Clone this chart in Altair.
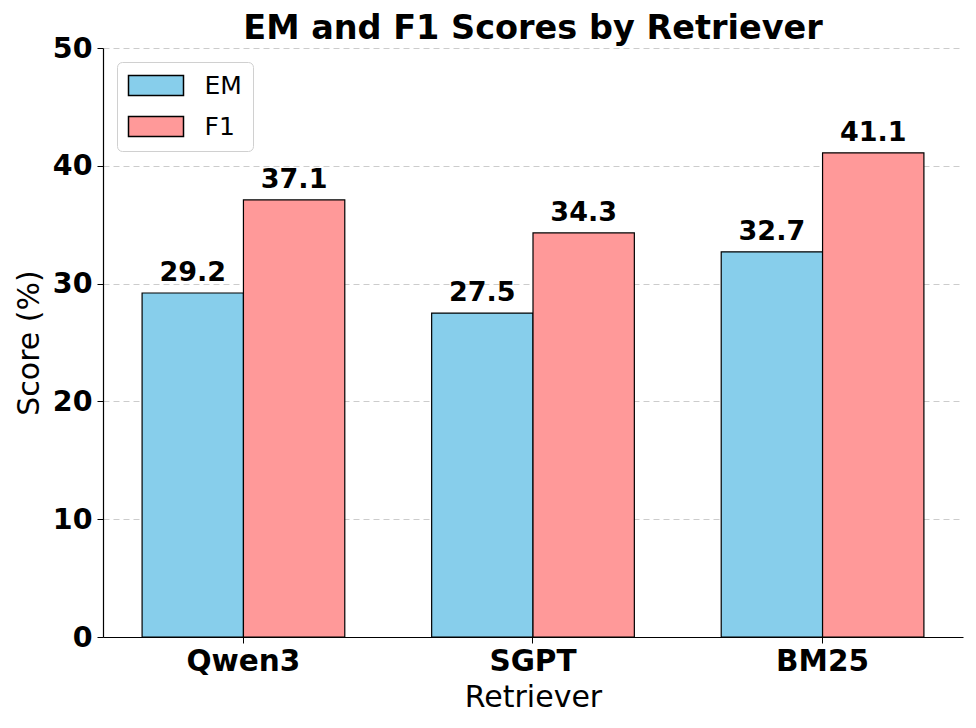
import altair as alt
import pandas as pd

retrievers = ["Qwen3", "SGPT", "BM25"]
metrics = ["EM", "F1"]
em_scores = [29.2, 27.5, 32.7]
f1_scores = [37.1, 34.3, 41.1]
colors = ["#87CEEB", "#FF9999"]

rows = []
for r, em, f1 in zip(retrievers, em_scores, f1_scores):
    rows.append({"Retriever": r, "Metric": "EM", "Score": em})
    rows.append({"Retriever": r, "Metric": "F1", "Score": f1})
df = pd.DataFrame(rows)
df["label"] = df["Score"].map(lambda v: f"{v:.1f}")

FONT = "DejaVu Sans"

x = alt.X(
    "Retriever:N",
    sort=retrievers,
    scale=alt.Scale(paddingInner=0.3, paddingOuter=0.135),
    axis=alt.Axis(
        title="Retriever",
        labelAngle=0,
        labelFontWeight="bold",
        labelFontSize=29.5,
        labelColor="black",
        labelPadding=4,
        titleFontSize=30,
        titleFontWeight="normal",
        titleColor="black",
        titlePadding=7,
        tickSize=6,
        tickColor="black",
        domainColor="black",
        domainWidth=1.2,
        grid=False,
    ),
)
xo = alt.XOffset("Metric:N", sort=metrics, scale=alt.Scale(paddingInner=0, paddingOuter=0))
y = alt.Y(
    "Score:Q",
    scale=alt.Scale(domain=[0, 50], nice=False),
    axis=alt.Axis(
        title="Score (%)",
        values=[0, 10, 20, 30, 40, 50],
        labelFontWeight="bold",
        labelFontSize=28.5,
        labelColor="black",
        labelPadding=5,
        titleFontSize=30,
        titleFontWeight="normal",
        titleColor="black",
        titlePadding=8,
        tickSize=6,
        tickColor="black",
        domainColor="black",
        domainWidth=1.2,
        grid=True,
        gridColor="#cccccc",
        gridDash=[6, 4],
        gridWidth=1,
    ),
)
color = alt.Color(
    "Metric:N",
    sort=metrics,
    scale=alt.Scale(domain=metrics, range=colors),
    legend=alt.Legend(
        title=None,
        orient="none",
        legendX=14,
        legendY=14,
        symbolType="M-2.75,-1 L2.75,-1 L2.75,1 L-2.75,1 Z",
        symbolSize=400,
        symbolOffset=15.5,
        symbolStrokeColor="black",
        symbolStrokeWidth=1.5,
        symbolOpacity=1,
        labelFontSize=25,
        labelFont=FONT,
        labelColor="black",
        labelOffset=36,
        rowPadding=14,
        padding=11,
        fillColor="white",
        strokeColor="#d0d0d0",
        cornerRadius=5,
    ),
)

bars = alt.Chart(df).mark_bar(stroke="black", strokeWidth=1.2).encode(
    x=x, xOffset=xo, y=y, color=color
)
labels = alt.Chart(df).mark_text(
    fontWeight="bold", fontSize=27, baseline="alphabetic", dy=-12, color="black", font=FONT
).encode(x=x, xOffset=xo, y=y, text="label:N")

chart = (
    alt.layer(bars, labels)
    .properties(
        width=860,
        height=589,
        title=alt.TitleParams(
            "EM and F1 Scores by Retriever",
            fontSize=33.5,
            fontWeight="bold",
            font=FONT,
            color="black",
            anchor="middle",
            offset=-12,
        ),
        autosize=alt.AutoSizeParams(type="none"),
        padding={"left": 95, "top": 40, "right": 5, "bottom": 83},
    )
    .configure(font=FONT)
    .configure_view(stroke=None)
    .configure_axis(labelFont=FONT, titleFont=FONT)
)

chart.save("out.html", embed_options={"renderer": "svg", "actions": False})
